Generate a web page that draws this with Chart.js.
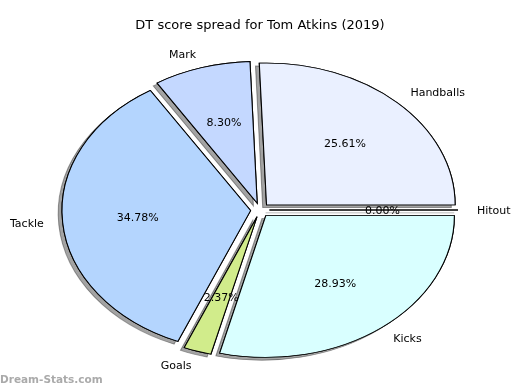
<!DOCTYPE html>
<html>
<head>
<meta charset="utf-8">
<script src="https://cdn.jsdelivr.net/npm/chart.js@4.4.1/dist/chart.umd.min.js"></script>
<style>
  html, body { margin: 0; padding: 0; background: #fff; }
  #chart { display: block; }
</style>
</head>
<body>
<canvas id="chart" width="520" height="390"></canvas>
<script>
// slices in the order the original pie lays them out (counter-clockwise from 3 o'clock)
const labels = ['Handballs', 'Mark', 'Tackle', 'Goals', 'Kicks', 'Hitout'];
const shares = [25.61, 8.30, 34.78, 2.37, 28.93, 0.00];
const colors = ['#eaf0ff', '#c4d8ff', '#b4d5fe', '#d1ec8b', '#d9ffff', '#eaffea'];
const titleText = 'DT score spread for Tom Atkins (2019)';

// the pie is stretched into an ellipse like the original axes
const CX = 260, CY = 210, RX = 188.6, RY = 141.8;
const EXPLODE = 0.05;
const SHADOW_X = -3.8, SHADOW_Y = 2.8;

// chart.js walks clockwise on screen, so feed it reversed
const cjLabels = [...labels].reverse();
const cjShares = [...shares].reverse();
const cjColors = [...colors].reverse();

const ellipsePie = {
    id: 'ellipsePie',
    beforeDatasetsDraw(chart) {
        const ctx = chart.ctx;
        const arcs = chart.getDatasetMeta(0).data;
        const x0 = arcs[0].x, y0 = arcs[0].y, R = arcs[0].outerRadius;

        const place = () => {
            ctx.translate(CX, CY);
            ctx.scale(RX / R, RY / R);
            ctx.translate(-x0, -y0);
        };

        const drawAll = (withShadow) => {
            arcs.forEach(arc => {
                const mid = (arc.startAngle + arc.endAngle) / 2;
                ctx.save();
                if (withShadow) {
                    ctx.shadowColor = 'rgba(0,0,0,0.36)';
                    ctx.shadowOffsetX = SHADOW_X;
                    ctx.shadowOffsetY = SHADOW_Y;
                    ctx.shadowBlur = 0;
                }
                place();
                ctx.translate(Math.cos(mid) * EXPLODE * R, Math.sin(mid) * EXPLODE * R);
                if (arc.endAngle - arc.startAngle > 0) {
                    arc.draw(ctx);
                } else {
                    // zero-size wedge: only its edge line is left
                    ctx.beginPath();
                    ctx.moveTo(x0, y0);
                    ctx.lineTo(x0 + Math.cos(arc.startAngle) * R, y0 + Math.sin(arc.startAngle) * R);
                    ctx.lineWidth = 1;
                    ctx.strokeStyle = '#000';
                    ctx.stroke();
                }
                ctx.restore();
            });
        };

        drawAll(true);
        drawAll(false);

        // slice names and percentages
        ctx.save();
        ctx.font = '11px "DejaVu Sans"';
        ctx.fillStyle = '#000';
        ctx.textBaseline = 'middle';
        arcs.forEach((arc, i) => {
            const mid = (arc.startAngle + arc.endAngle) / 2;
            const c = Math.cos(mid), s = Math.sin(mid);
            const ex = CX + EXPLODE * RX * c, ey = CY + EXPLODE * RY * s;
            const lx = ex + 1.1 * RX * c, ly = ey + 1.1 * RY * s;
            ctx.textAlign = lx > CX ? 'left' : 'right';
            ctx.fillText(cjLabels[i], lx, ly + 1);
            ctx.textAlign = 'center';
            ctx.fillText(cjShares[i].toFixed(2) + '%', ex + 0.6 * RX * c, ey + 0.6 * RY * s + 1);
        });

        // watermark
        ctx.font = 'bold 10.5px "DejaVu Sans"';
        ctx.fillStyle = '#aaaaaa';
        ctx.textAlign = 'left';
        ctx.fillText('Dream-Stats.com', 0, 380);
        ctx.restore();
        return false;
    }
};

new Chart(document.getElementById('chart'), {
    type: 'pie',
    data: {
        labels: cjLabels,
        datasets: [{
            data: cjShares,
            backgroundColor: cjColors,
            borderColor: '#000',
            borderWidth: 1,
            borderJoinStyle: 'miter'
        }]
    },
    options: {
        responsive: false,
        devicePixelRatio: 1,
        animation: false,
        events: [],
        rotation: 90,
        layout: { padding: 0 },
        plugins: {
            legend: { display: false },
            tooltip: { enabled: false },
            title: {
                display: true,
                text: titleText,
                color: '#000',
                font: { family: 'DejaVu Sans', size: 13, weight: 'normal' },
                padding: { top: 18, bottom: 10 }
            }
        }
    },
    plugins: [ellipsePie]
});
</script>
</body>
</html>
